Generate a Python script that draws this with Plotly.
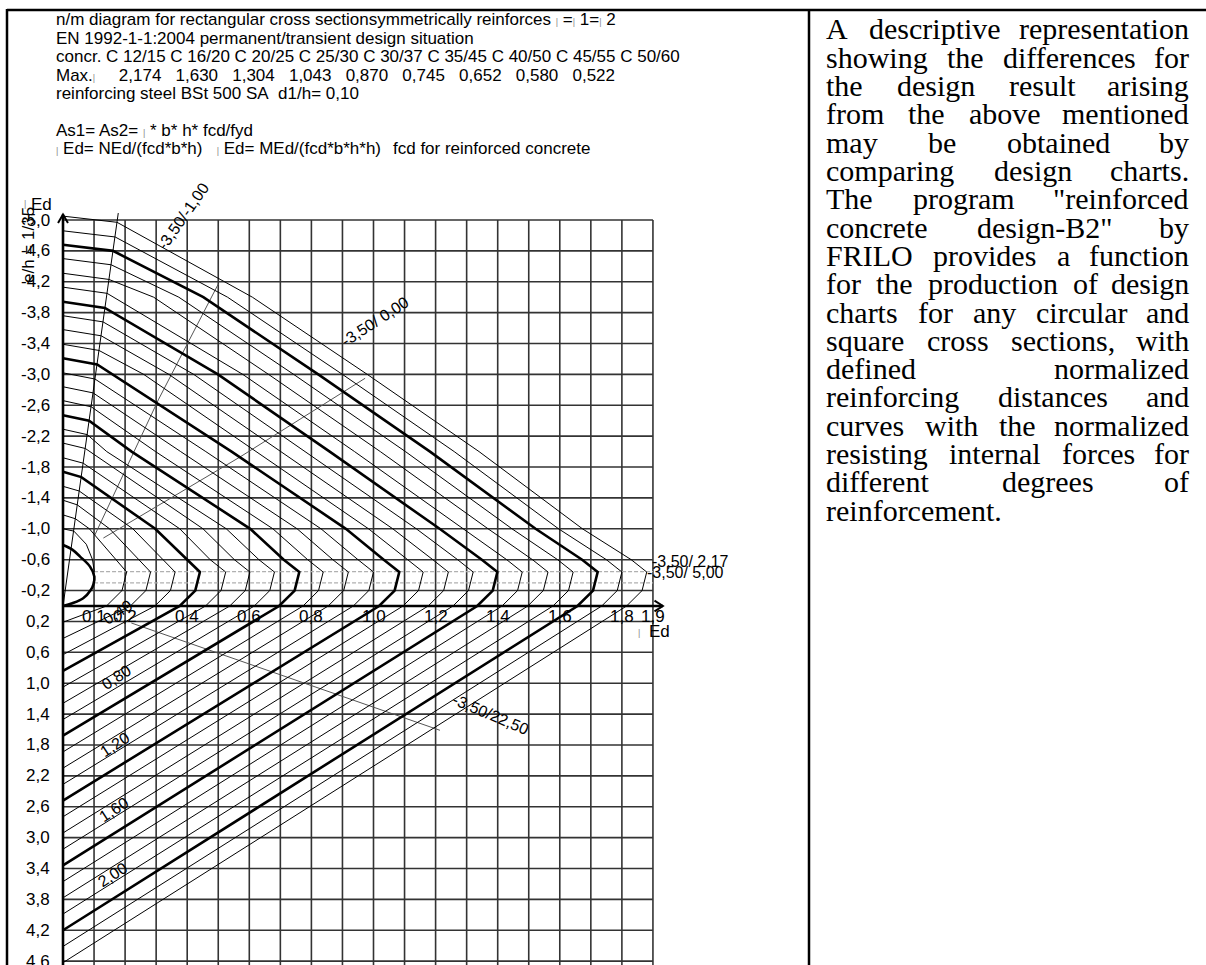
import plotly.graph_objects as go

W, H = 1206, 965

# data window: mu (bending) to the right, n (axial) downward, compression on top
MU_LO, MU_HI = -0.2029, 3.6812
N_BOT, N_TOP = 4.6503, -7.8497

# ---------------------------------------------------------------- data
omega = [0.1, 0.2, 0.3, 0.4, 0.5, 0.6, 0.7, 0.8, 0.9, 1.0, 1.1,
         1.2, 1.3, 1.4, 1.5, 1.6, 1.7, 1.8, 1.9, 2.0, 2.1, 2.2]
bold_omega = [0.4, 0.8, 1.2, 1.6, 2.0]

n_start = [-1.18, -1.37, -1.55, -1.74, -1.92, -2.11, -2.29, -2.47, -2.66, -2.84, -3.02,
           -3.21, -3.39, -3.58, -3.76, -3.94, -4.13, -4.31, -4.50, -4.68, -4.86, -5.05]
knee_n = [-1.13, -1.31, -1.49, -1.67, -1.85, -2.04, -2.22, -2.40, -2.58, -2.76, -2.94,
          -3.13, -3.31, -3.50, -3.68, -3.86, -4.05, -4.23, -4.42, -4.60, -4.78, -4.97]
knee_mu = [0.040, 0.046, 0.052, 0.059, 0.065, 0.072, 0.078, 0.084, 0.091, 0.097, 0.103,
           0.110, 0.116, 0.123, 0.129, 0.135, 0.142, 0.148, 0.155, 0.161, 0.168, 0.174]
# mu where each curve crosses n = -4.0, -3.0, -2.0, -1.0, -0.6
mu_at_m4 = [None] * 17 + [0.292, 0.373, 0.452, 0.530, 0.610]
mu_at_m3 = [None] * 12 + [0.260, 0.341, 0.421, 0.499, 0.579, 0.662, 0.743, 0.822, 0.900, 0.980]
mu_at_m2 = [None] * 6 + [0.141, 0.221, 0.298, 0.379, 0.460, 0.543, 0.620, 0.701,
                         0.781, 0.859, 0.939, 1.022, 1.103, 1.182, 1.260, 1.340]
mu_at_m1 = [0.085, 0.150, 0.225, 0.297, 0.376, 0.451, 0.526, 0.603, 0.676, 0.754, 0.831,
            0.911, 0.984, 1.062, 1.138, 1.213, 1.289, 1.369, 1.446, 1.522, 1.596, 1.673]
mu_at_m06 = [0.170, 0.242, 0.321, 0.401, 0.474, 0.552, 0.631, 0.711, 0.788, 0.869, 0.950,
             1.033, 1.110, 1.191, 1.271, 1.349, 1.429, 1.512, 1.593, 1.672, 1.750, 1.830]
nose_mu = [0.205, 0.282, 0.361, 0.441, 0.524, 0.602, 0.681, 0.761, 0.838, 0.919, 1.000,
           1.083, 1.160, 1.241, 1.321, 1.399, 1.479, 1.562, 1.643, 1.722, 1.800, 1.880]
nose_n = [-0.44, -0.44, -0.44, -0.44, -0.44, -0.44, -0.44, -0.44, -0.44, -0.44, -0.44,
          -0.44, -0.44, -0.44, -0.44, -0.44, -0.44, -0.44, -0.44, -0.44, -0.44, -0.44]
mu_at_m02 = [0.190, 0.267, 0.346, 0.426, 0.509, 0.587, 0.666, 0.746, 0.823, 0.904, 0.985,
             1.068, 1.145, 1.226, 1.306, 1.384, 1.464, 1.547, 1.628, 1.707, 1.785, 1.865]
mu_axis = [0.140, 0.217, 0.296, 0.376, 0.459, 0.537, 0.616, 0.696, 0.773, 0.854, 0.935,
           1.018, 1.095, 1.176, 1.256, 1.334, 1.414, 1.497, 1.578, 1.657, 1.735, 1.815]
n_tension = [0.21, 0.42, 0.63, 0.84, 1.05, 1.26, 1.47, 1.68, 1.89, 2.10, 2.31,
             2.52, 2.73, 2.94, 3.15, 3.36, 3.57, 3.78, 3.99, 4.20, 4.41, 4.62]
levels = [-4.0, -3.0, -2.0, -1.0, -0.6]

# plain concrete (omega = 0)
plain_mu = [0.0, 0.030, 0.055, 0.087, 0.101, 0.098, 0.090, 0.065, 0.030, 0.0]
plain_n = [-0.79, -0.73, -0.64, -0.51, -0.38, -0.28, -0.21, -0.10, -0.035, 0.0]
plain_thin_mu = [0.0, 0.035, 0.075, 0.095, 0.101]
plain_thin_n = [-1.0, -0.97, -0.80, -0.60, -0.44]

# strain-state lines (concrete / steel strain in per mille)
ray_mu, ray_n = [0.0, 0.178], [0.0, -5.09]
s_m100_mu, s_m100_n = [0.098, 0.307, 0.50], [-0.88, -2.67, -4.17]
s_000_mu, s_000_n = [0.13, 0.57, 0.973], [-0.88, -1.93, -2.95]
s_217_mu, s_217_n = [0.10, 1.90], [-0.445, -0.445]
s_500_mu, s_500_n = [0.10, 1.90], [-0.30, -0.30]
s_2250_mu, s_2250_n = [0.22, 1.214], [0.22, 1.61]

strain_labels = ["-3,50/-1,00", "-3,50/ 0,00", "-3,50/ 2,17", "-3,50/ 5,00", "-3,50/22,50"]
strain_label_mu = [0.387, 1.005, 1.891, 1.875, 1.378]
strain_label_n = [-5.04, -3.68, -0.57, -0.43, 1.41]
strain_label_angle = [-55, -33, 0, 0, 23]
strain_label_anchor = ["center", "center", "left", "left", "center"]

omega_label_mu = [0.174, 0.171, 0.167, 0.164, 0.161]
omega_label_n = [0.08, 0.93, 1.79, 2.63, 3.48]

grid_mu = [0.1, 0.2, 0.3, 0.4, 0.5, 0.6, 0.7, 0.8, 0.9, 1.0,
           1.1, 1.2, 1.3, 1.4, 1.5, 1.6, 1.7, 1.8, 1.9]
grid_n = [-5.0, -4.6, -4.2, -3.8, -3.4, -3.0, -2.6, -2.2, -1.8, -1.4, -1.0, -0.6, -0.2,
          0.2, 0.6, 1.0, 1.4, 1.8, 2.2, 2.6, 3.0, 3.4, 3.8, 4.2, 4.6]
x_tick_vals = [0.1, 0.2, 0.4, 0.6, 0.8, 1.0, 1.2, 1.4, 1.6, 1.8, 1.9]

grades = ["C 12/15", "C 16/20", "C 20/25", "C 25/30", "C 30/37",
          "C 35/45", "C 40/50", "C 45/55", "C 50/60"]
max_values = [2.174, 1.630, 1.304, 1.043, 0.870, 0.745, 0.652, 0.580, 0.522]

paragraph = [
    "A descriptive representation",
    "showing the differences for",
    "the design result arising",
    "from the above mentioned",
    "may be obtained by",
    "comparing design charts.",
    "The program \"reinforced",
    "concrete design-B2\" by",
    "FRILO provides a function",
    "for the production of design",
    "charts for any circular and",
    "square cross sections, with",
    "defined normalized",
    "reinforcing distances and",
    "curves with the normalized",
    "resisting internal forces for",
    "different degrees of",
    "reinforcement.",
]

# ---------------------------------------------------------------- helpers
SANS = "Liberation Sans, Arial, sans-serif"
SERIF = "Liberation Serif, Times New Roman, serif"
NB = "\u00a0"
BAR = '<span style="font-size:9px;color:#8a8a8a">|</span>'


def comma(v, nd):
    return f"{v:.{nd}f}".replace(".", ",")


def px(x):
    return x / W


def py(y):
    return 1 - y / H


fig = go.Figure()


def add_line(x, y, color="black", width=1.0, dash=None, shape="linear"):
    fig.add_trace(go.Scatter(x=x, y=y, mode="lines",
                             line=dict(color=color, width=width, dash=dash, shape=shape),
                             hoverinfo="skip", showlegend=False))


annotations = []


def note_data(text, x, y, size=17, angle=0, xanchor="center", yanchor="middle", family=SANS):
    annotations.append(dict(text=text, x=x, y=y, xref="x", yref="y", showarrow=False,
                            textangle=angle, xanchor=xanchor, yanchor=yanchor,
                            font=dict(family=family, size=size, color="black")))


def note_px(text, x, y, size=17, angle=0, xanchor="left", yanchor="middle", family=SANS):
    annotations.append(dict(text=text, x=px(x), y=py(y), xref="paper", yref="paper",
                            showarrow=False, textangle=angle, xanchor=xanchor,
                            yanchor=yanchor, borderpad=0,
                            font=dict(family=family, size=size, color="black")))


# ---------------------------------------------------------------- grid
gx, gy = [], []
for m in grid_mu:
    gx += [m, m, None]
    gy += [grid_n[0], N_BOT, None]
for n in grid_n:
    gx += [0.0, grid_mu[-1], None]
    gy += [n, n, None]
add_line(gx, gy, color="#333333", width=1.6)

# ---------------------------------------------------------------- strain lines
add_line(s_217_mu, s_217_n, color="#b0b0b0", width=1.2, dash="4px,2px")
add_line(s_500_mu, s_500_n, color="#b0b0b0", width=1.2, dash="4px,2px")
add_line(s_m100_mu, s_m100_n, color="#555555", width=1.0)
add_line(s_000_mu, s_000_n, color="#555555", width=1.0)
add_line(s_2250_mu, s_2250_n, color="#555555", width=1.0)
add_line(ray_mu, ray_n, color="black", width=1.0)

# ---------------------------------------------------------------- interaction curves
add_line(plain_thin_mu, plain_thin_n, width=1.0)
add_line(plain_mu, plain_n, width=2.6, shape="spline")
for i, w in enumerate(omega):
    xs = [0.0, knee_mu[i]]
    ys = [n_start[i], knee_n[i]]
    for lev, arr in zip(levels, [mu_at_m4, mu_at_m3, mu_at_m2, mu_at_m1, mu_at_m06]):
        if arr[i] is not None:
            xs.append(arr[i])
            ys.append(lev)
    xs += [nose_mu[i], mu_at_m02[i], mu_axis[i], 0.0]
    ys += [nose_n[i], -0.2, 0.0, n_tension[i]]
    bold = any(abs(w - b) < 1e-9 for b in bold_omega)
    add_line(xs, ys, width=2.6 if bold else 1.0)

# ---------------------------------------------------------------- axes
y_top = -5.07
x_end = 1.932
add_line([0.0, 0.0], [N_BOT, y_top], width=2.6)
add_line([0.0, x_end], [0.0, 0.0], width=2.6)
add_line([-0.016, 0.0, 0.016], [y_top + 0.11, y_top, y_top + 0.11], width=2.0)
add_line([x_end - 0.027, x_end, x_end - 0.027], [-0.07, 0.0, 0.07], width=2.0)

for n in grid_n:
    note_data(comma(n, 1), -0.0354, n, xanchor="right")
for m in x_tick_vals:
    note_data(comma(m, 1), m, 0.13)

note_px(BAR, 25, 204, size=17, xanchor="center")
note_px("Ed", 30, 204)
note_px(BAR, 639, 633, size=17, xanchor="center")
note_px("Ed", 648, 631)
note_px("e/h = 1/35", 28, 245, angle=-90, xanchor="center")

for t, m, n, a, anc in zip(strain_labels, strain_label_mu, strain_label_n,
                           strain_label_angle, strain_label_anchor):
    note_data(t, m, n, size=16, angle=a, xanchor=anc)

for w, m, n in zip(bold_omega, omega_label_mu, omega_label_n):
    note_data(comma(w, 2), m, n, size=16, angle=-33)

# ---------------------------------------------------------------- header text
note_px("n/m diagram for rectangular cross sectionsymmetrically reinforces "
        + BAR + " =" + BAR + " 1=" + BAR + " 2", 55, 19)
note_px("EN 1992-1-1:2004 permanent/transient design situation", 55, 38)
note_px("concr. " + " ".join(grades), 55, 56)
note_px("Max." + BAR + NB * 5 + (NB * 3).join(comma(v, 3) for v in max_values), 55, 75)
note_px("reinforcing steel BSt 500 SA" + NB * 2 + "d1/h= 0,10", 55, 93)
note_px("As1= As2= " + BAR + " * b* h* fcd/fyd", 55, 130)
note_px(BAR + " Ed= NEd/(fcd*b*h)" + NB * 3 + BAR + " Ed= MEd/(fcd*b*h*h)", 55, 148)
note_px("fcd for reinforced concrete", 392, 148)

# ---------------------------------------------------------------- justified paragraph
TNR = {" ": 250, '"': 408, ",": 250, "-": 333, ".": 250, "2": 500,
       "A": 722, "B": 667, "F": 556, "I": 333, "L": 611, "O": 722, "R": 667, "T": 611,
       "a": 444, "b": 500, "c": 444, "d": 500, "e": 444, "f": 333, "g": 500, "h": 500,
       "i": 278, "j": 278, "k": 500, "l": 278, "m": 778, "n": 500, "o": 500, "p": 500,
       "q": 500, "r": 333, "s": 389, "t": 278, "u": 500, "v": 500, "w": 722, "x": 500,
       "y": 500, "z": 444}
FS = 30
LEFT, RIGHT = 825, 1190


def text_w(s):
    return sum(TNR.get(c, 500) for c in s) / 1000 * FS


for i, line in enumerate(paragraph):
    words = line.split(" ")
    yc = 29 + 28.3 * i
    widths = [text_w(w) for w in words]
    last = i == len(paragraph) - 1
    if not last and len(words) > 1:
        gap = (RIGHT - LEFT - sum(widths)) / (len(words) - 1)
    else:
        gap = text_w(" ")
    x = LEFT
    for k, (w, wd) in enumerate(zip(words, widths)):
        if not last and k == len(words) - 1 and len(words) > 1:
            note_px(w, RIGHT, yc, size=FS, xanchor="right", family=SERIF)
        else:
            note_px(w, x, yc, size=FS, family=SERIF)
        x += wd + gap

# ---------------------------------------------------------------- table frame
shapes = [
    dict(type="line", xref="paper", yref="paper", x0=px(7), x1=px(W), y0=py(10), y1=py(10),
         line=dict(color="black", width=2.5)),
    dict(type="line", xref="paper", yref="paper", x0=px(7), x1=px(7), y0=py(9), y1=py(H),
         line=dict(color="black", width=2.5)),
    dict(type="line", xref="paper", yref="paper", x0=px(809), x1=px(809), y0=py(9), y1=py(H),
         line=dict(color="black", width=2.5)),
]

fig.update_layout(
    width=W, height=H,
    margin=dict(l=0, r=0, t=0, b=0),
    paper_bgcolor="white", plot_bgcolor="white",
    xaxis=dict(range=[MU_LO, MU_HI], visible=False, fixedrange=True),
    yaxis=dict(range=[N_BOT, N_TOP], visible=False, fixedrange=True),
    showlegend=False,
    annotations=annotations,
    shapes=shapes,
)

fig.write_html("out.html")
